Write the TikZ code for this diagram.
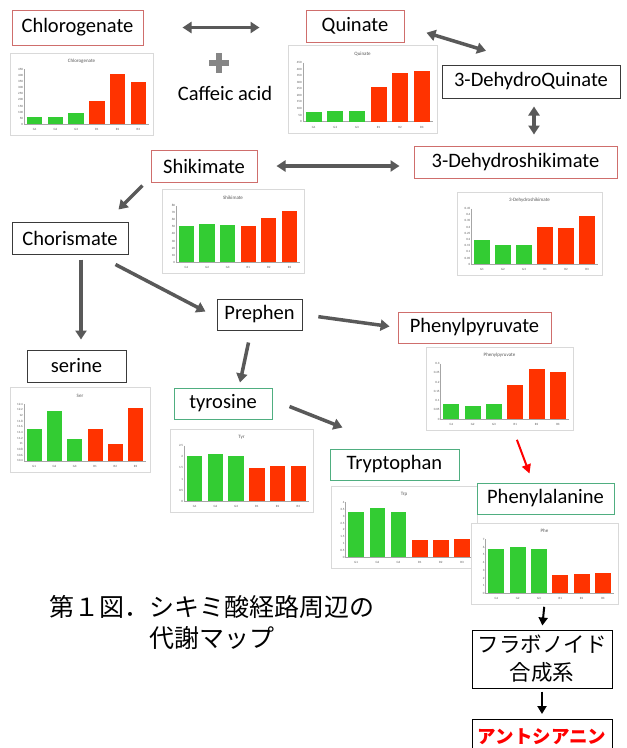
\documentclass[tikz,border=0pt]{standalone}
\usepackage{fontspec}
\setmainfont{Carlito}
\newfontfamily\jpfont{Noto Sans CJK JP}
\usetikzlibrary{arrows.meta,calc}
\definecolor{boxred}{HTML}{CF6E6C}
\definecolor{boxgreen}{HTML}{4FAE80}
\definecolor{boxdark}{HTML}{3A3A3A}
\definecolor{arrgray}{HTML}{595959}
\definecolor{bargreen}{HTML}{33CC33}
\definecolor{barred}{HTML}{FF3300}
\definecolor{framegray}{HTML}{D9D9D9}
\newcommand{\mychart}[9]{%
\begin{scope}[shift={(#2)}]
\node[chartframe, minimum width=#3pt, minimum height=#4pt, anchor=north west] (#1) at (0,0) {};
\pgfmathsetmacro{\cL}{0.1*#3}
\pgfmathsetmacro{\cR}{0.97*#3}
\pgfmathsetmacro{\cT}{0.2*#4}
\pgfmathsetmacro{\cB}{0.87*#4}
\pgfmathsetmacro{\cW}{(\cR-\cL)/6}
\node[charttitle] at ({#3/2},{0.1*#4}) {#5};
\draw[axisline] (\cL,\cT) -- (\cL,\cB) -- (\cR,\cB);
\foreach \tk in {#8}{%
  \pgfmathsetmacro{\ty}{\cB-(\tk-#6)/(#7-#6)*(\cB-\cT)}
  \node[ticklab,anchor=east] at (\cL-0.5,\ty) {\tk};}
\foreach \bv [count=\ii] in {#9}{%
  \pgfmathsetmacro{\xc}{\cL+(\ii-0.5)*\cW}
  \pgfmathsetmacro{\yt}{\cB-(\bv-#6)/(#7-#6)*(\cB-\cT)}
  \ifnum\ii<4
    \fill[bargreen] ({\xc-0.37*\cW},\cB) rectangle ({\xc+0.37*\cW},\yt);
  \else
    \fill[barred] ({\xc-0.37*\cW},\cB) rectangle ({\xc+0.37*\cW},\yt);
  \fi}
\foreach \lab [count=\ii] in {G1,G2,G3,R1,R2,R3}{%
  \pgfmathsetmacro{\xc}{\cL+(\ii-0.5)*\cW}
  \node[ticklab] at (\xc,{\cB+0.065*#4}) {\lab};}
\end{scope}}
\begin{document}
\begin{tikzpicture}[x=1pt,y=-1pt,
  mbox/.style={draw, line width=1pt, fill=white, inner sep=0pt, minimum height=32pt, font=\fontsize{20.5}{23}\selectfont},
  redbox/.style={mbox, draw=boxred},
  greenbox/.style={mbox, draw=boxgreen},
  darkbox/.style={mbox, draw=boxdark},
  chartframe/.style={draw=framegray, line width=0.8pt, fill=white, inner sep=0pt},
  charttitle/.style={font=\fontsize{5}{5}\selectfont, text=arrgray, inner sep=0pt},
  ticklab/.style={font=\fontsize{3.2}{3.2}\selectfont, text=arrgray, inner sep=0.5pt},
  axisline/.style={draw=gray!70, line width=0.5pt},
  arr/.style={draw=arrgray, line width=3.5pt, -{Triangle[length=9pt,width=11pt]}},
  dbl/.style={draw=arrgray, line width=3.5pt, {Triangle[length=9pt,width=11pt]}-{Triangle[length=9pt,width=11pt]}},
  redarr/.style={draw=red, line width=2pt, -{Triangle[length=9pt,width=9pt]}},
  blkarr/.style={draw=black, line width=2pt, -{Triangle[length=8pt,width=9pt]}}
]
\useasboundingbox[fill=white] (0,0) rectangle (627,748);

% charts
\mychart{chlorochart}{10,53}{143}{82}{Chlorogenate}{0}{450}{0,50,...,450}{58,60,94,194,414,343}
\mychart{quinchart}{288,45}{149}{88}{Quinate}{0}{450}{0,50,...,450}{74,79,84,265,371,383}
\mychart{shikchart}{162,189}{142}{84}{Shikimate}{0}{80}{0,10,...,80}{51,54,53,51,62,72}
\mychart{dhschart}{457,192}{145}{83}{3-Dehydroshikimate}{0}{0.45}{0,0.05,0.1,0.15,0.2,0.25,0.3,0.35,0.4,0.45}{0.193,0.155,0.155,0.30,0.297,0.389}
\mychart{serchart}{10,387}{140}{85}{Ser}{10.4}{12.4}{10.4,10.6,10.8,11,11.2,11.4,11.6,11.8,12,12.2,12.4}{11.52,12.17,11.18,11.52,11.0,12.25}
\mychart{tyrchart}{170,429}{143}{83}{Tyr}{0}{2.5}{0,0.5,1,1.5,2,2.5}{2.02,2.13,2.02,1.48,1.57,1.57}
\mychart{trpchart}{331,486}{146}{82}{Trp}{0}{4}{0,0.5,1,1.5,2,2.5,3,3.5,4}{3.33,3.56,3.27,1.27,1.27,1.36}
\mychart{phechart}{471,523}{147}{81}{Phe}{0}{7}{0,1,...,7}{5.75,5.98,5.75,2.39,2.51,2.59}
\mychart{phpychart}{426,347}{147}{83}{Phenylpyruvate}{0}{0.3}{0,0.05,0.1,0.15,0.2,0.25,0.3}{0.083,0.072,0.082,0.185,0.27,0.255}

% boxes
\node[redbox, minimum width=131pt, minimum height=35pt] (chloro) at (77.5,27.5) {Chlorogenate};
\node[redbox, minimum width=98pt] (quinate) at (355,26) {Quinate};
\node[darkbox, minimum width=178pt, minimum height=33pt] (dhq) at (531,81.5) {3-DehydroQuinate};
\node[redbox, minimum width=106pt] (shik) at (204,166) {Shikimate};
\node[redbox, minimum width=203pt] (dhs) at (515.5,162) {3-Dehydroshikimate};
\node[darkbox, minimum width=116pt] (chor) at (70,238) {Chorismate};
\node[darkbox, minimum width=85pt, minimum height=31pt] (preph) at (259.5,314.5) {Prephen};
\node[redbox, minimum width=153pt, minimum height=31pt] (phpyr) at (474.5,327.5) {Phenylpyruvate};
\node[darkbox, minimum width=99pt] (serine) at (76.5,366) {serine};
\node[greenbox, minimum width=98pt, minimum height=31pt] (tyr) at (223,403.5) {tyrosine};
\node[greenbox, minimum width=129pt, minimum height=31pt] (trp) at (394.5,464.5) {Tryptophan};
\node[greenbox, minimum width=137pt, minimum height=31pt] (phe) at (545.5,498.5) {Phenylalanine};
\node[draw=black, line width=1pt, fill=white, minimum width=140pt, minimum height=58pt, inner sep=0pt, align=center,
      font=\jpfont\fontsize{21.5}{28}\selectfont] (flav) at (542,659) {フラボノイド\\合成系};
\node[draw=black, line width=1pt, fill=white, minimum width=140pt, minimum height=34pt, inner sep=0pt, anchor=north,
      text=red, font=\jpfont\bfseries\fontsize{18.5}{21}\selectfont] (antho) at (542,719) {アントシアニン};

% texts
\node[font=\fontsize{20.5}{23}\selectfont, inner sep=0pt] (caffeic) at (225,93) {Caffeic acid};
\draw[draw=gray!95, line width=6pt] (209,63) -- (229,63) (219,53) -- (219,73);
\node[font=\jpfont\fontsize{25}{31}\selectfont, align=center, inner sep=0pt] (caption) at (212,622) {第１図．シキミ酸経路周辺の\\代謝マップ};

% connectors
\draw[dbl, shorten <=39pt, shorten >=46pt] (chloro.east) -- (chloro.east -| quinate.west);
\draw[dbl, shorten <=23pt, shorten >=47pt] (quinate.east) -- (dhq.north);
\draw[dbl, shorten <=8pt, shorten >=11pt] ([xshift=3pt]dhq.south) -- ([xshift=3pt]dhq.south |- dhs.north);
\draw[dbl, shorten <=19pt, shorten >=14pt] (shik.east) -- (shik.east -| dhs.west);
\draw[arr] ([shift={(-8,3)}]shik.south west) -- ([shift={(-10,-12)}]chor.north east);
\draw[arr, shorten <=5pt, shorten >=10pt] ([xshift=11pt]chor.south) -- ([xshift=11pt]chor.south |- serine.north);
\draw[arr] ([shift={(-13,10)}]chor.south east) -- ([shift={(-11,-3)}]preph.west);
\draw[arr, shorten <=16pt, shorten >=8pt] (preph.east) -- (phpyr.west);
\draw[arr] ([shift={(-11,12)}]preph.south) -- ([shift={(17,-5)}]tyr.north);
\draw[arr] ([shift={(17,3)}]tyr.east) -- ([shift={(13,-21)}]trp.north west);
\draw[redarr] ([shift={(17,9)}]phpychart.south) -- ([shift={(-16,-9)}]phe.north);
\draw[blkarr, shorten <=2pt, shorten >=4pt] ([xshift=-0.5pt]phechart.south) -- (flav.north);
\draw[blkarr, shorten <=3pt, shorten >=5pt] (flav.south) -- (antho.north);
\end{tikzpicture}
\end{document}
